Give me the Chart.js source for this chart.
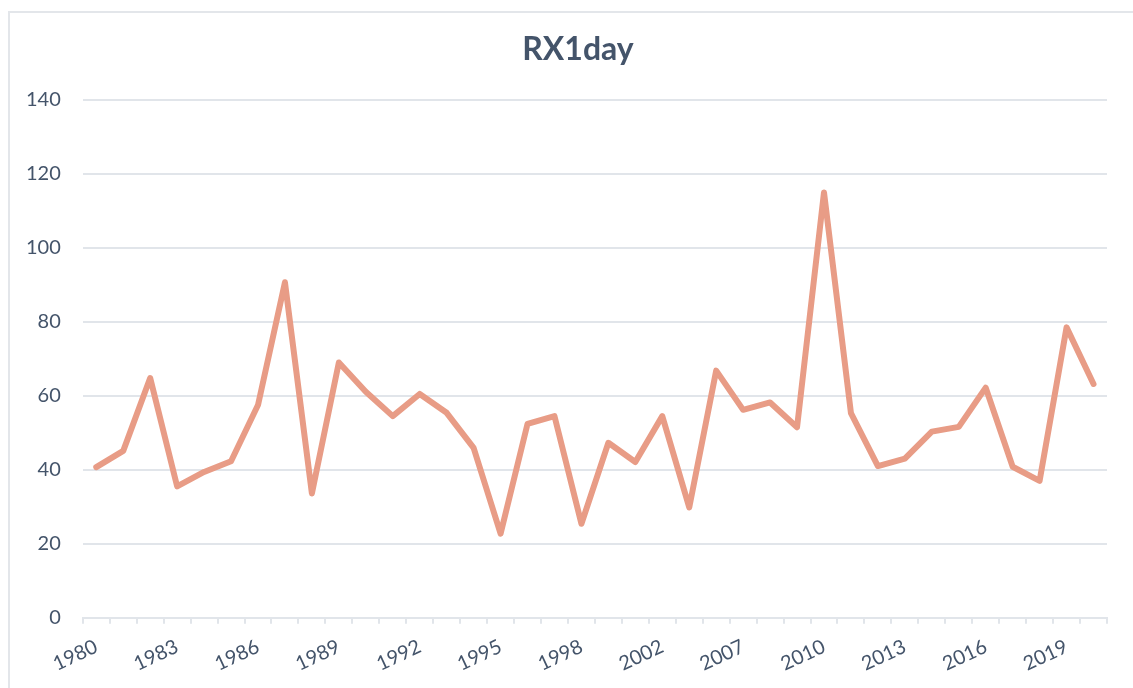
<!DOCTYPE html>
<html>
<head>
<meta charset="utf-8">
<script src="https://cdn.jsdelivr.net/npm/chart.js@4"></script>
<style>
    html, body { margin: 0; padding: 0; background: #fff; overflow: hidden; }
    #frame {
        position: absolute; left: 8px; top: 11px;
        width: 1200px; height: 800px;
        border-left: 2px solid #E3E6EA; border-top: 2px solid #E3E6EA;
    }
    #wrap { position: absolute; left: 0; top: 0; width: 1133px; height: 688px; }
</style>
</head>
<body>
<div id="frame"></div>
<div id="wrap"><canvas id="rx1dayCanvas"></canvas></div>
<script>
const years = [
    '1980', '1981', '1982', '1983', '1984', '1985', '1986', '1987', '1988', '1989',
    '1990', '1991', '1992', '1993', '1994', '1995', '1996', '1997', '1998', '1999',
    '2000', '2002', '2003', '2005', '2007', '2008', '2009', '2010', '2011', '2012',
    '2013', '2014', '2015', '2016', '2017', '2018', '2019', '2020',
];
const rx1day = [
    40.7, 45.1, 64.8, 35.5, 39.4, 42.3, 57.5, 90.7, 33.6, 69.0,
    61.1, 54.5, 60.5, 55.4, 45.9, 22.7, 52.4, 54.5, 25.4, 47.3,
    42.1, 54.5, 29.8, 66.8, 56.2, 58.2, 51.5, 115.0, 55.3, 41.0,
    43.0, 50.3, 51.6, 62.2, 40.8, 37.0, 78.5, 63.2,
];
const labelledYears = ['1980', '1983', '1986', '1989', '1992', '1995', '1998', '2002', '2007', '2010', '2013', '2016', '2019'];
const yTicks = [0, 20, 40, 60, 80, 100, 120, 140];

const textColor = '#44546A';
const gridColor = '#E1E5EA';

// the chart frame runs past the right edge of the page, title is centred on the frame
const frameLeft = 9;
const frameWidth = 1138;

const frameTitle = {
    id: 'frameTitle',
    afterDraw(chart) {
        const c = chart.ctx;
        c.save();
        c.fillStyle = textColor;
        c.font = 'bold 32px Lato';
        c.textAlign = 'center';
        c.textBaseline = 'alphabetic';
        c.fillText('RX1day', frameLeft + frameWidth / 2, 60);
        c.restore();
    },
};

document.addEventListener('DOMContentLoaded', () => {
    const ctx = document.getElementById('rx1dayCanvas').getContext('2d');

    new Chart(ctx, {
        type: 'line',
        data: {
            labels: years,
            datasets: [
                {
                    label: 'RX1day',
                    data: rx1day,
                    borderColor: '#E89C86',
                    borderWidth: 6,
                    borderJoinStyle: 'round',
                    borderCapStyle: 'round',
                    pointRadius: 0,
                    tension: 0,
                    fill: false,
                },
            ],
        },
        options: {
            responsive: true,
            maintainAspectRatio: false,
            animation: false,
            layout: {
                padding: { left: 4, right: 26, top: 100, bottom: 1 },
            },
            plugins: {
                legend: { display: false },
                tooltip: { enabled: false },
                title: { display: false },
            },
            scales: {
                x: {
                    offset: true,
                    border: { display: true, color: gridColor, width: 2 },
                    grid: {
                        display: true,
                        offset: true,
                        drawOnChartArea: false,
                        drawTicks: true,
                        tickLength: 6,
                        tickColor: gridColor,
                        lineWidth: 2,
                    },
                    ticks: {
                        autoSkip: false,
                        minRotation: 25,
                        maxRotation: 25,
                        padding: 11,
                        color: textColor,
                        font: { family: 'Lato', size: 20 },
                        callback: function (value) {
                            const year = this.getLabelForValue(value);
                            return labelledYears.includes(year) ? year : '';
                        },
                    },
                },
                y: {
                    min: 0,
                    max: 140,
                    afterBuildTicks: (axis) => {
                        axis.ticks = yTicks.map((v) => ({ value: v }));
                    },
                    border: { display: false },
                    grid: {
                        color: gridColor,
                        lineWidth: 2,
                        drawTicks: false,
                    },
                    ticks: {
                        padding: 22,
                        color: textColor,
                        font: { family: 'Lato', size: 20 },
                    },
                },
            },
        },
        plugins: [frameTitle],
    });
});
</script>
</body>
</html>
